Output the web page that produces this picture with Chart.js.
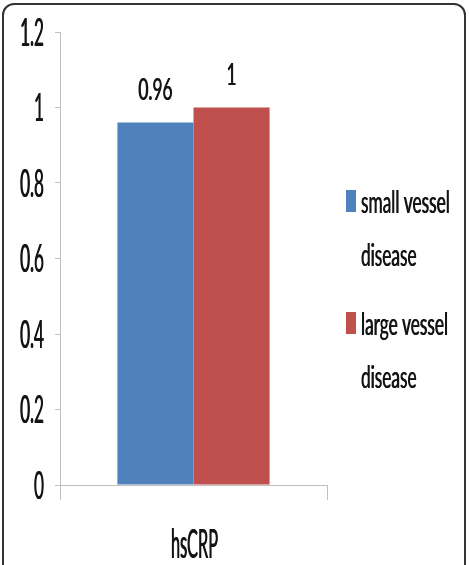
<!DOCTYPE html>
<html>
<head>
<meta charset="utf-8">
<script src="https://cdn.jsdelivr.net/npm/chart.js@4.4.1/dist/chart.umd.min.js"></script>
<style>
  html, body { margin: 0; padding: 0; background: #fff; }
  body { width: 469px; height: 565px; overflow: hidden; position: relative; }
  #frame { position: absolute; left: 2px; top: 3px; width: 464px; height: 620px;
           border: 2px solid #333; border-radius: 12px; box-sizing: border-box; }
  canvas { position: absolute; left: 0; top: 0; }
</style>
</head>
<body>
<div id="frame"></div>
<canvas id="chart" width="469" height="565"></canvas>
<script>
const categories = ['hsCRP'];
const seriesNames = [['small vessel', 'disease'], ['large vessel', 'disease']];
const smallVessel = [0.96];
const largeVessel = [1];
const yTicks = [0, 0.2, 0.4, 0.6, 0.8, 1, 1.2];

const FONT = 'Lato, "Open Sans", sans-serif';
const TEXT = '#141414';
const AXIS = '#bfbfbf';

// the source text is tall and narrow: each text style is squeezed to the width of a sample
const TICK = { size: 38, sample: '0.8', width: 23 };
const VALUE = { size: 30, sample: '0.96', width: 34 };
const LEGEND = { size: 30, sample: 'small vessel', width: 87 };
const XLABEL = { size: 41, sample: 'hsCRP', width: 46 };

function squeezeOf(ctx, st) {
    ctx.font = st.size + 'px ' + FONT;
    const m = ctx.measureText(st.sample);
    return st.width / (m.actualBoundingBoxLeft + m.actualBoundingBoxRight);
}

function drawText(ctx, st, str, x, y, align) {
    const sx = squeezeOf(ctx, st);
    ctx.save();
    ctx.font = st.size + 'px ' + FONT;
    ctx.fillStyle = TEXT;
    ctx.textAlign = align;
    ctx.textBaseline = 'alphabetic';
    ctx.translate(x, y);
    ctx.scale(sx, 1);
    // second pass slightly shifted to give the squeezed stems some weight
    ctx.fillText(str, -0.3 / sx, 0);
    ctx.fillText(str, 0.3 / sx, 0);
    ctx.restore();
}

const texts = {
    id: 'texts',
    afterDraw(chart) {
        const ctx = chart.ctx;
        const xs = chart.scales.x, ys = chart.scales.y;

        // y tick labels
        yTicks.forEach(v => drawText(ctx, TICK, String(v), 44, ys.getPixelForValue(v) + 13.5, 'right'));

        // category labels
        categories.forEach((c, i) => drawText(ctx, XLABEL, c, xs.getPixelForValue(i) + 1, 558, 'center'));

        // value labels above the bars
        chart.data.datasets.forEach((ds, i) => {
            chart.getDatasetMeta(i).data.forEach((bar, j) => {
                drawText(ctx, VALUE, String(ds.data[j]), bar.x, bar.y - 23, 'center');
            });
        });

        // legend on the right, two lines per entry
        const lx = chart.chartArea.right + 19;
        let base = 213;
        chart.data.datasets.forEach((ds, i) => {
            ctx.fillStyle = ds.backgroundColor;
            ctx.fillRect(lx, base - 23, 10, 22);
            seriesNames[i].forEach((line, k) => drawText(ctx, LEGEND, line, lx + 15, base + k * 53, 'left'));
            base += 122;
        });
    }
};

new Chart(document.getElementById('chart').getContext('2d'), {
    type: 'bar',
    data: {
        labels: categories,
        datasets: [
            { label: seriesNames[0].join(' '), data: smallVessel, backgroundColor: '#4f81bd' },
            { label: seriesNames[1].join(' '), data: largeVessel, backgroundColor: '#c0504d' }
        ]
    },
    options: {
        responsive: false,
        animation: false,
        layout: { padding: { top: 32, right: 142, bottom: 0, left: 0 } },
        categoryPercentage: 0.57,
        barPercentage: 1.0,
        plugins: { legend: { display: false }, tooltip: { enabled: false } },
        scales: {
            x: {
                grid: { drawOnChartArea: false, color: AXIS, tickLength: 15 },
                border: { color: AXIS },
                ticks: { display: false },
                afterFit: s => { s.height = 80; }
            },
            y: {
                min: 0,
                max: 1.2,
                afterBuildTicks: s => { s.ticks = yTicks.map(v => ({ value: v })); },
                grid: { drawOnChartArea: false, color: AXIS, tickLength: 5 },
                border: { color: AXIS },
                ticks: { display: false },
                afterFit: s => { s.width = 60; }
            }
        }
    },
    plugins: [texts]
});
</script>
</body>
</html>
